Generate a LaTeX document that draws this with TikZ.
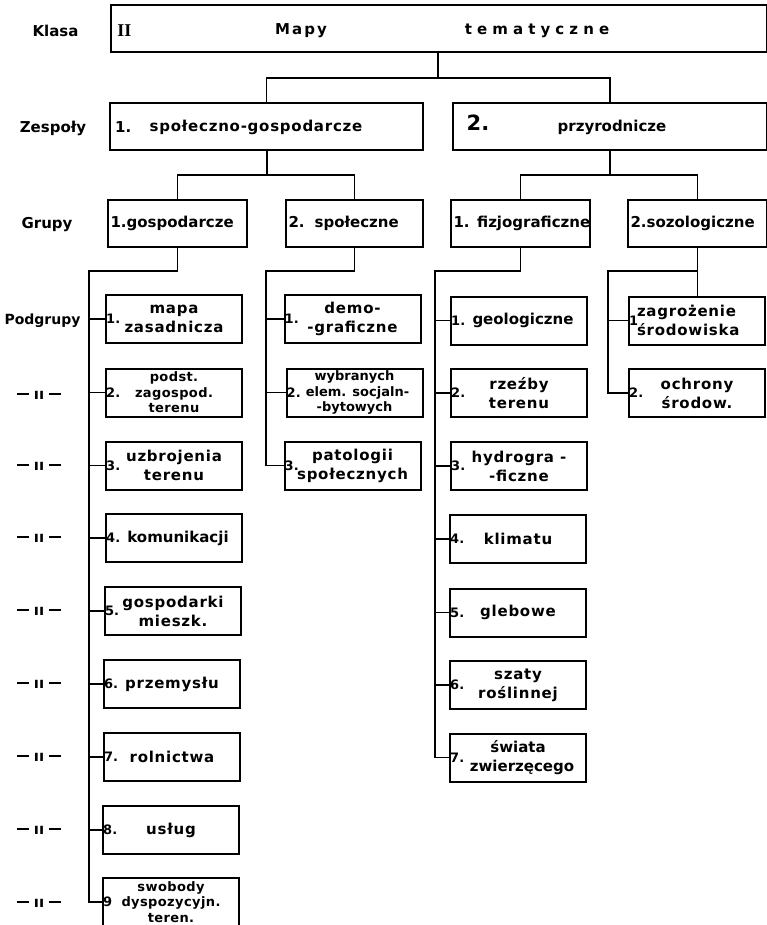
\documentclass[tikz,border=0pt]{standalone}
\usepackage{fontspec}
\setmainfont{DejaVu Sans}
\newfontfamily\romfont{Liberation Serif}
\newcommand{\powt}{\rule[4.5pt]{12pt}{1.8pt}\hspace{5pt}ıı\hspace{5pt}\rule[4.5pt]{12pt}{1.8pt}}
\tikzset{
  box/.style={draw, line width=2pt, inner sep=0pt},
  grp/.style={box, minimum height=47, text width=134, inner xsep=2.5pt, align=left, font=\fontsize{15}{18}\selectfont\bfseries},
  sub/.style={box, minimum width=136, minimum height=48, align=center, font=\fontsize{15}{19}\selectfont\bfseries\addfontfeature{LetterSpace=5}},
  subs/.style={sub, font=\fontsize{13}{15.5}\selectfont\bfseries\addfontfeature{LetterSpace=3}},
  subn/.style={sub, font=\fontsize{15}{19}\selectfont\bfseries},
  num/.style={anchor=west, inner sep=0pt, xshift=1pt, font=\fontsize{13}{13}\selectfont\bfseries},
  lab/.style={inner sep=0pt, font=\fontsize{15}{15}\selectfont\bfseries},
  link/.style={line width=1.6pt},
}
\begin{document}
\begin{tikzpicture}[x=1pt,y=-1pt]
\useasboundingbox (0,0) rectangle (767,925);

% klasa
\node[box, minimum width=656, minimum height=47] (klasa) at (439,28.5) {};
\node[lab, font=\fontsize{18}{18}\romfont\bfseries] (rzym) at (124.5,31) {II};
\node[lab, font=\fontsize{15}{15}\selectfont\bfseries\addfontfeature{LetterSpace=14}] (mapy) at (301,31) {Mapy};
\node[lab, font=\fontsize{15}{15}\selectfont\bfseries\addfontfeature{LetterSpace=34}] (temat) at (537,31) {tematyczne};

% etykiety z lewej
\node[lab] (klasaL) at (55.5,31) {Klasa};
\node[lab] (zespL) at (53,128) {Zespoły};
\node[lab] (grupL) at (47,225) {Grupy};
\node[lab, font=\fontsize{14}{14}\selectfont\bfseries] (podgL) at (42.5,321) {Podgrupy};
\node[lab] (p2) at (39,395) {\powt};
\node[lab] (p3) at (39,466) {\powt};
\node[lab] (p4) at (39,538) {\powt};
\node[lab] (p5) at (39,611) {\powt};
\node[lab] (p6) at (39,684) {\powt};
\node[lab] (p7) at (39,757) {\powt};
\node[lab] (p8) at (39,830) {\powt};
\node[lab] (p9) at (39,903) {\powt};

% zespoly
\node[box, minimum width=313, minimum height=47] (z1) at (266.5,126.5) {};
\node[lab, anchor=west] (z1n) at (115,127) {1.};
\node[lab, font=\fontsize{15}{15}\selectfont\bfseries\addfontfeature{LetterSpace=5}] (z1t) at (256,127) {społeczno-gospodarcze};
\node[box, minimum width=314, minimum height=47] (z2) at (610,126.5) {};
\node[lab, font=\fontsize{21}{21}\selectfont\bfseries] (z2n) at (478,123) {2.};
\node[lab] (z2t) at (612,127) {przyrodnicze};

% grupy
\node[grp] (g1) at (177.5,223.5) {\mbox{1.gospodarcze}};
\node[grp, text width=132] (g2) at (354.5,223.5) {\mbox{2.~~społeczne}};
\node[grp] (g3) at (520.5,223.5) {\mbox{1. fizjograficzne}};
\node[grp] (g4) at (697.5,223.5) {\mbox{2.sozologiczne}};

% podgrupy
\node[sub, label={[num]west:1.}] (s11) at (174,319) {mapa\\zasadnicza};
\node[subs, label={[num]west:2.}] (s12) at (174,392.5) {podst.\\zagospod.\\terenu};
\node[sub, label={[num]west:3.}] (s13) at (174,465.5) {uzbrojenia\\terenu};
\node[subn, label={[num]west:4.}] (s14) at (174,538) {\hspace*{8pt}komunikacji};
\node[sub, label={[num]west:5.}] (s15) at (173,611) {gospodarki\\mieszk.};
\node[sub, label={[num]west:6.}] (s16) at (172,684) {przemysłu};
\node[sub, label={[num]west:7.}] (s17) at (172,757) {rolnictwa};
\node[sub, label={[num]west:8.}] (s18) at (171,830) {usług};
\node[subs, label={[num]west:9}] (s19) at (171,902) {swobody\\dyspozycyjn.\\teren.};

\node[sub, label={[num]west:1.}] (s21) at (352.5,319) {demo-\\-graficzne};
\node[subs, font=\fontsize{13}{15.5}\selectfont\bfseries, label={[num]west:2.}] (s22) at (354.5,392.5) {wybranych\\\hspace*{6pt}elem. socjaln-\\-bytowych};
\node[sub, label={[num]west:3.}] (s23) at (352.5,465.5) {patologii\\społecznych};

\node[subn, label={[num]west:1.}] (s31) at (519,320.5) {\hspace*{8pt}geologiczne};
\node[sub, label={[num]west:2.}] (s32) at (519,393) {rzeźby\\terenu};
\node[sub, label={[num]west:3.}] (s33) at (519,466) {hydrogra -\\-ficzne};
\node[sub, label={[num]west:4.}] (s34) at (518,539) {klimatu};
\node[sub, label={[num]west:5.}] (s35) at (518,612.5) {glebowe};
\node[sub, label={[num]west:6.}] (s36) at (518,685) {szaty\\roślinnej};
\node[subn, label={[num]west:7.}] (s37) at (518,757.5) {świata\\\hspace*{8pt}zwierzęcego};

\node[sub, text width=120, align=left, inner xsep=8pt, label={[num]west:1}] (s41) at (697,320.5) {zagrożenie\\środowiska};
\node[sub, label={[num]west:2.}] (s42) at (697,393) {ochrony\\środow.};

% polaczenia
\coordinate (kz) at (438,78);
\draw[link] (klasa.south -| kz) -- (kz);
\draw[link] (z1.north) |- (kz) -| (z2.north);

\coordinate (zg1) at (267,175);
\coordinate (zg2) at (610,175);
\draw[link] (z1.south -| zg1) -- (zg1);
\draw[link] (g1.north) |- (zg1) -| (g2.north);
\draw[link] (z2.south) -- (zg2);
\draw[link] (g3.north) |- (zg2) -| (g4.north);

\coordinate (t1) at (89,271);
\coordinate (t2) at (266,271);
\coordinate (t3) at (435,271);
\coordinate (t4) at (608,271);
\draw[link] (g1.south) |- (t1) -- (t1 |- s19.west) -- (s19.west);
\foreach \s in {s11,s12,s13,s14,s15,s16,s17,s18}
  \draw[link] (t1 |- \s.west) -- (\s.west);
\draw[link] (g2.south) |- (t2) -- (t2 |- s23.west) -- (s23.west);
\foreach \s in {s21,s22}
  \draw[link] (t2 |- \s.west) -- (\s.west);
\draw[link] (g3.south) |- (t3) -- (t3 |- s37.west) -- (s37.west);
\foreach \s in {s31,s32,s33,s34,s35,s36}
  \draw[link] (t3 |- \s.west) -- (\s.west);
\draw[link] (g4.south) -- (s41.north -| g4.south);
\draw[link] (t4 -| g4.south) -- (t4) -- (t4 |- s42.west) -- (s42.west);
\draw[link] (t4 |- s41.west) -- (s41.west);
\end{tikzpicture}
\end{document}
